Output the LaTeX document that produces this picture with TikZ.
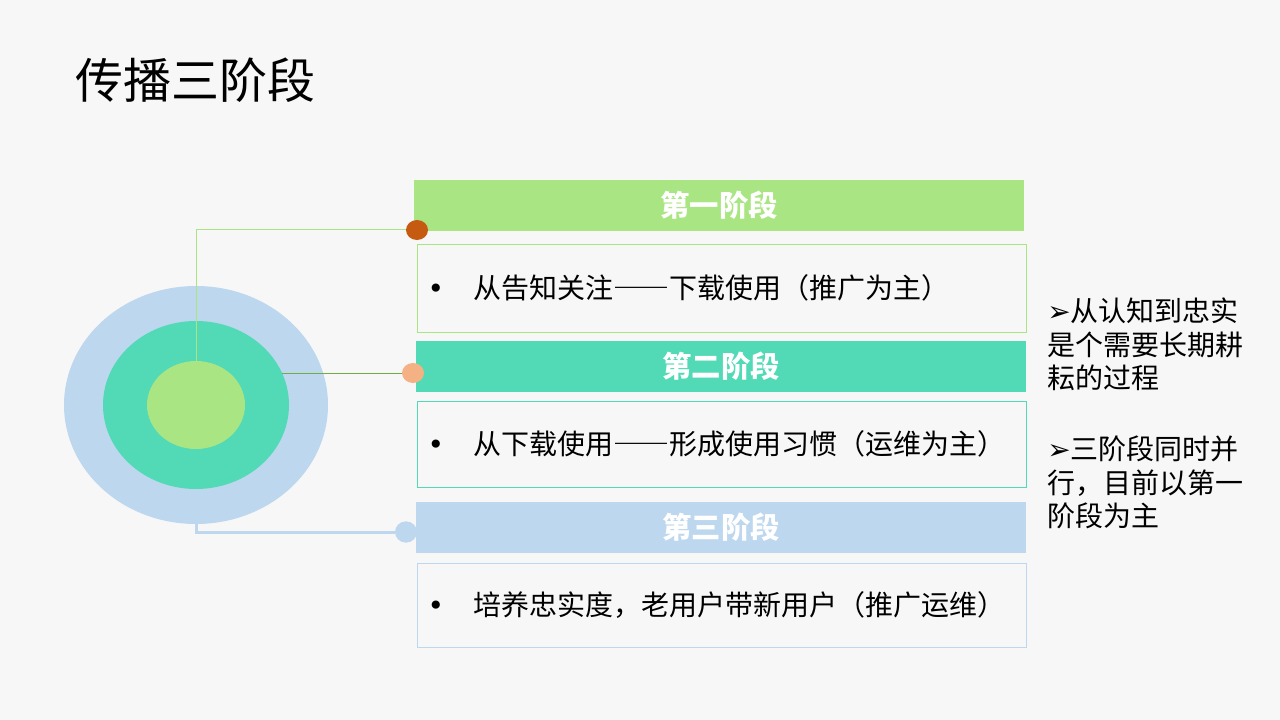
\documentclass[tikz,border=0pt]{standalone}
\usepackage{fontspec}
\setmainfont{Noto Sans CJK SC}
\newfontfamily\symfont{DejaVu Sans}
\newfontfamily\fwfont[RawFeature=+fwid]{Noto Sans CJK SC}
\newcommand\fwdash{{\fwfont ——}}
\newcommand\blt{\makebox[33pt][l]{\hspace{-1pt}{\symfont •}}}
\usetikzlibrary{shapes.geometric}
\definecolor{bgc}{HTML}{F7F7F7}
\definecolor{lgreen}{HTML}{A9E582}
\definecolor{teal}{HTML}{52D9B6}
\definecolor{lblue}{HTML}{BDD7EE}
\definecolor{dotA}{HTML}{C55A11}
\definecolor{dotB}{HTML}{F4B183}
\definecolor{lineB}{HTML}{70AD47}
\begin{document}
\begin{tikzpicture}[x=0.75pt,y=-0.75pt,
  ring/.style={ellipse, draw=none, inner sep=0pt, outer sep=0pt},
  dotnode/.style={ellipse, draw=none, inner sep=0pt, outer sep=0pt, minimum width=16.5pt, minimum height=15pt},
  bar/.style={rectangle, inner sep=0pt, outer sep=0pt, minimum width=457.5pt, minimum height=38.25pt, text=white, font=\fontsize{22pt}{26pt}\selectfont\bfseries},
  stagebox/.style={rectangle, line width=0.75pt, fill=bgc, inner xsep=9pt, inner ysep=0pt, outer sep=0pt, text width=438.75pt, align=left, font=\fontsize{21pt}{25pt}\selectfont},
]
\fill[bgc] (0,0) rectangle (1280,720);
\useasboundingbox (0,0) rectangle (1280,720);

\node[anchor=west, inner sep=0pt, font=\fontsize{36pt}{40pt}\selectfont] (title) at (75,80) {传播三阶段};

% concentric ellipses
\node[ring, fill=lblue, minimum width=198pt, minimum height=178.5pt] (outer) at (196,405) {};
\node[ring, fill=teal, minimum width=139.5pt, minimum height=126pt] (mid) at (196,405) {};
\node[ring, fill=lgreen, minimum width=73.5pt, minimum height=66pt] (inner) at (196,405) {};

% heading bars
\node[bar, fill=lgreen] (bar1) at (719,205.5) {第一阶段};
\node[bar, fill=teal] (bar2) at (721,366.5) {第二阶段};
\node[bar, fill=lblue] (bar3) at (721,527.5) {第三阶段};

% content boxes
\node[stagebox, draw=lgreen, minimum height=66pt] (box1) at (721.5,288) {\blt 从告知关注\fwdash 下载使用（推广为主）};
\node[stagebox, draw=teal, minimum height=64.5pt] (box2) at (721.5,444) {\blt 从下载使用\fwdash 形成使用习惯（运维为主）};
\node[stagebox, draw=lblue, minimum height=63pt] (box3) at (721.5,605) {\blt 培养忠实度，老用户带新用户（推广运维）};

% dots
\node[dotnode, fill=dotA] (dot1) at (417,230) {};
\node[dotnode, fill=dotB] (dot2) at (413,373) {};
\node[dotnode, fill=lblue, minimum width=16.5pt, minimum height=16pt] (dot3) at (406,532) {};

% connectors
\draw[lgreen, line width=0.75pt] (inner.north) |- (dot1);
\draw[lineB, line width=0.75pt] (dot2) -- (dot2 -| mid.20.4);
\draw[lblue, line width=2.25pt] (outer.south) |- (dot3);

% side note
\node[anchor=north west, align=left, inner sep=0pt, font=\fontsize{21pt}{25.1pt}\selectfont] (note) at (1047,298)
  {{\symfont ➢}从认知到忠实\\是个需要长期耕\\耘的过程\\[28pt]{\symfont ➢}三阶段同时并\\行，目前以第一\\阶段为主};
\end{tikzpicture}
\end{document}
